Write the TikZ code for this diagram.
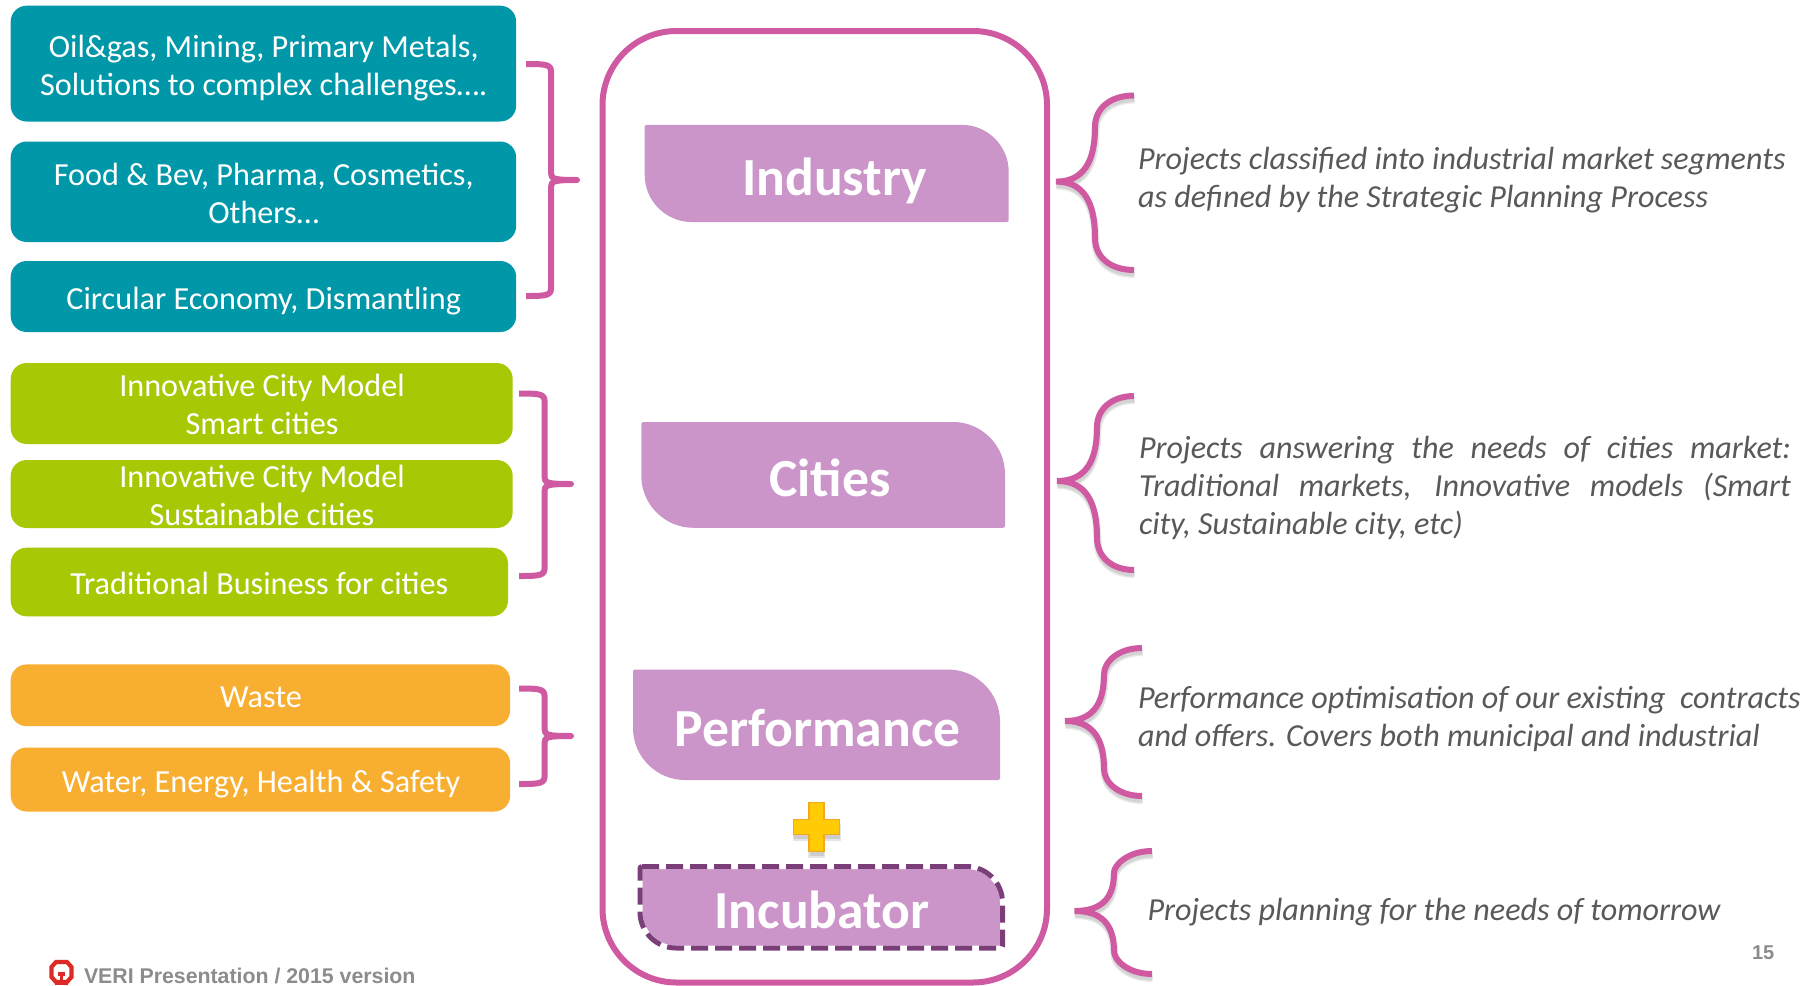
\documentclass[tikz,border=0pt]{standalone}
\usepackage{fontspec}
\setmainfont{Carlito}
\newfontfamily\arialf{Liberation Sans}
\definecolor{tealc}{HTML}{0097A9}
\definecolor{greenc}{HTML}{A7C905}
\definecolor{orangec}{HTML}{F8AF31}
\definecolor{mauvec}{HTML}{CB95C9}
\definecolor{pinkc}{HTML}{CF5AA1}
\definecolor{dashc}{HTML}{7A3F78}
\definecolor{textg}{HTML}{595959}
\definecolor{footg}{HTML}{8C8C8C}
\definecolor{plusc}{HTML}{FFCB05}
\definecolor{plusb}{HTML}{F5A623}
\definecolor{logoc}{HTML}{DE2A26}
\tikzset{
  every node/.style={inner sep=0pt,outer sep=0pt},
  tile/.style={rectangle,rounded corners=16pt,minimum width=#1},
  tealbox/.style={tile=505.5pt,fill=tealc},
  greenbox/.style={tile=502pt,fill=greenc},
  orangebox/.style={tile=499.5pt,fill=orangec},
  tilelabel/.style={anchor=base,align=center,text=white,font=\fontsize{32.2}{38}\selectfont},
  headlabel/.style={anchor=base,text=white,font=\fontsize{53.6}{60}\selectfont\bfseries},
  note/.style={anchor=base west,align=left,text=textg,font=\fontsize{32.1}{38}\selectfont\itshape},
  pinkline/.style={draw=pinkc,line width=6pt,line cap=round,line join=round},
  bracepath/.style={draw=pinkc,line width=6pt,line cap=butt},
  shadowpath/.style={draw=black,line cap=butt,opacity=.09},
  footer/.style={text=footg,font=\arialf\bfseries}
}
% diagonal-round shape: #1 x1, #2 y1, #3 x2, #4 y2, #5 radius
\newcommand{\diagpath}[5]{
  (#1+2,#2) -- (#3-#5,#2) .. controls (#3-0.45*#5,#2) and (#3,#2+0.45*#5) .. (#3,#2+#5)
  -- (#3,#4-2) .. controls (#3,#4-1) and (#3-1,#4) .. (#3-2,#4)
  -- (#1+#5,#4) .. controls (#1+0.45*#5,#4) and (#1,#4-0.45*#5) .. (#1,#4-#5)
  -- (#1,#2+2) .. controls (#1,#2+1) and (#1+1,#2) .. (#1+2,#2) -- cycle}
% curly brace: #1 xtip, #2 xmid, #3 xright, #4 ytop, #5 ytip, #6 ybottom
\newcommand{\bracepts}[6]{
  (#3,#4) .. controls (#2+14,#4) and (#2,#4+14) .. (#2,{#4+0.36*(#5-#4)})
  .. controls (#2,{#5-0.22*(#5-#4)}) and ({#2-12},#5) .. (#1,#5)
  .. controls ({#2-12},#5) and (#2,{#5+0.22*(#6-#5)}) .. (#2,{#6-0.36*(#6-#5)})
  .. controls (#2,#6-14) and (#2+14,#6) .. (#3,#6)}
\newcommand{\curlybrace}[6]{
  \begin{scope}[shift={(0.5,4)}]
    \path[shadowpath,line width=8pt] \bracepts{#1}{#2}{#3}{#4}{#5}{#6};
    \path[shadowpath,line width=5pt] \bracepts{#1}{#2}{#3}{#4}{#5}{#6};
  \end{scope}
  \path[bracepath] \bracepts{#1}{#2}{#3}{#4}{#5}{#6};
}
% square bracket with a tip: #1 xstart, #2 xvert, #3 xtip, #4 ytop, #5 ytip, #6 ybottom
\newcommand{\squarebrace}[6]{
  \path[draw=pinkc,line width=6pt,line join=round]
    (#1,#4) .. controls (#2-8,#4) and (#2,#4) .. (#2,#4+7)
    -- (#2,#5-7) .. controls (#2,#5-1) and (#2+3,#5) .. (#3,#5)
    .. controls (#2+3,#5) and (#2,#5+1) .. (#2,#5+7)
    -- (#2,#6-7) .. controls (#2,#6) and (#2-8,#6) .. (#1,#6);
}
\begin{document}
\begin{tikzpicture}[x=1pt,y=-1pt]
\useasboundingbox (0,0) rectangle (1814,985);
\fill[white] (0,0) rectangle (1814,985);

% left tiles
\node[tealbox,minimum height=115.8pt] (t1) at (263.45,63.6) {};
\node[tealbox,minimum height=100.5pt] (t2) at (263.45,191.75) {};
\node[tealbox,minimum height=71pt] (t3) at (263.45,296.5) {};
\node[greenbox,minimum height=81pt] (g1) at (261.7,403.5) {};
\node[greenbox,minimum height=68pt] (g2) at (261.7,494) {};
\node[tile=497.3pt,fill=greenc,minimum height=68.7pt] (g3) at (259.35,582) {};
\node[orangebox,minimum height=61.7pt] (o1) at (260.45,695.3) {};
\node[orangebox,minimum height=64pt] (o2) at (260.45,779.5) {};

\node[tilelabel] (t1l) at (263.7,95) {Oil\&gas, Mining, Primary Metals,\\Solutions to complex challenges….};
\node[tilelabel] (t2l) at (263.7,223) {Food \& Bev, Pharma, Cosmetics,\\Others…};
\node[tilelabel] (t3l) at (263.7,309) {Circular Economy, Dismantling};
\node[tilelabel] (g1l) at (262,434.5) {Innovative City Model\\Smart cities};
\node[tilelabel] (g2l) at (262,525) {Innovative City Model\\Sustainable cities};
\node[tilelabel] (g3l) at (259.4,594) {Traditional Business for cities};
\node[tilelabel] (o1l) at (261,707) {Waste};
\node[tilelabel] (o2l) at (261,792) {Water, Energy, Health \& Safety};

% brackets
\squarebrace{526}{551}{577}{64}{180}{296}
\squarebrace{519}{544.5}{571}{393.5}{484}{576}
\squarebrace{519}{544.5}{571}{688.5}{736}{784}

% central frame
\draw[pinkline,rounded corners=74pt] (602.5,31) rectangle (1047,982.5);

% heads
\fill[mauvec] \diagpath{644.7}{124.8}{1008.7}{222}{47};
\fill[mauvec] \diagpath{641.3}{422}{1005}{527.8}{52};
\fill[mauvec] \diagpath{633}{669.5}{1000}{780}{52};
\fill[mauvec] \diagpath{640}{866.5}{1002.5}{948}{36};
\draw[white,line width=5pt] \diagpath{640}{866.5}{1002.5}{948}{36};
\draw[dashc,line width=5pt,dash pattern=on 17pt off 7pt] \diagpath{640}{866.5}{1002.5}{948}{36};

\node[headlabel] (industry) at (834.5,195) {Industry};
\node[headlabel] (cities) at (830,496) {Cities};
\node[headlabel] (performance) at (817.5,746.5) {Performance};
\node[headlabel] (incubator) at (822,928) {Incubator};

% plus
\begin{scope}[shift={(816.5,826.7)}]
  \fill[black,opacity=.10] (-8.5,-18) rectangle (8.5,31);
  \fill[black,opacity=.10] (-24,-3) rectangle (24,14);
  \fill[black,opacity=.10] (-7,-18) rectangle (7,29);
  \fill[black,opacity=.10] (-23,-3) rectangle (23,12);
  \path[fill=plusc,draw=plusb,line width=1.2pt]
    (-7.5,-24.5) -- (7.5,-24.5) -- (7.5,-7.5) -- (23,-7.5) -- (23,7.5) -- (7.5,7.5)
    -- (7.5,24.5) -- (-7.5,24.5) -- (-7.5,7.5) -- (-23,7.5) -- (-23,-7.5) -- (-7.5,-7.5) -- cycle;
\end{scope}

% curly braces
\curlybrace{1056}{1095}{1134}{95.5}{181.6}{270}
\curlybrace{1057}{1097}{1134}{396}{481}{570}
\curlybrace{1065}{1104}{1142}{648}{721}{796}
\curlybrace{1074.5}{1114}{1152}{851}{911}{974}

% notes
\node[note] (n1) at (1138,207) {Projects classified into industrial market segments\\as defined by the Strategic Planning Process};
\node[note] (n2) at (1139,534.5) {\makebox[652pt][s]{Projects answering the needs of cities market:}\\\makebox[652pt][s]{Traditional markets, Innovative models (Smart}\\city, Sustainable city, etc)};
\node[note] (n3) at (1138,746) {Performance optimisation of our existing~ contracts\\and offers. Covers both municipal and industrial};
\node[note] (n4) at (1147.6,920) {Projects planning for the needs of tomorrow};

% footer
\draw[logoc,line width=4.2pt] (51.5,967) -- (56,962) -- (67,962) -- (71.5,967) -- (71.5,977) -- (67,982) -- (56,982) -- (51.5,977) -- cycle;
\draw[logoc,line width=3.5pt] (61.5,975) -- (61.5,984);
\fill[logoc] (58,972) rectangle (65,976);
\fill[logoc] (55,981) rectangle (68,985);
\node[footer,anchor=base west,font=\arialf\bfseries\fontsize{21.3}{26}\selectfont] (foot) at (84,983) {VERI Presentation / 2015 version};
\node[footer,anchor=base west,font=\arialf\bfseries\fontsize{20}{24}\selectfont] (pageno) at (1752,959) {15};
\end{tikzpicture}
\end{document}
